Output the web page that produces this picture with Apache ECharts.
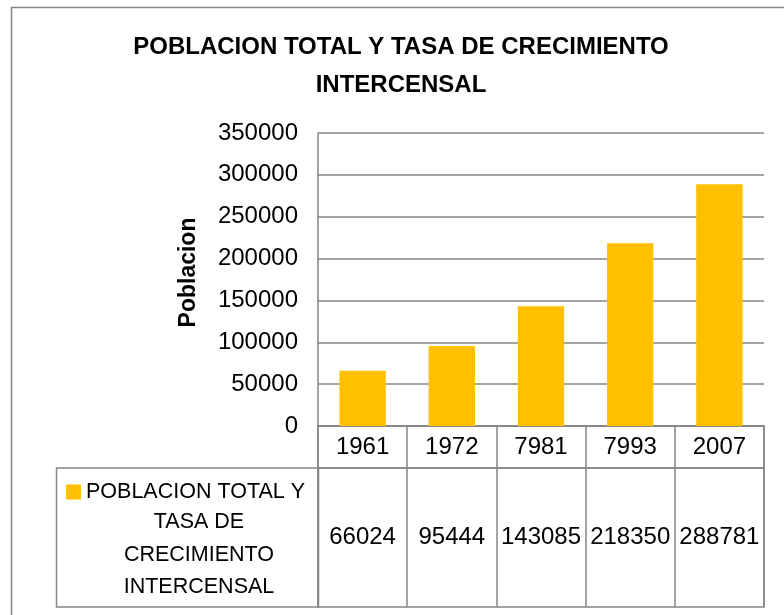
<!DOCTYPE html>
<html>
<head>
<meta charset="utf-8">
<script src="https://cdn.jsdelivr.net/npm/echarts@6/dist/echarts.min.js"></script>
<style>
  html, body { margin: 0; padding: 0; background: #fff; }
  #chart { width: 784px; height: 615px; }
</style>
</head>
<body>
<div id="chart"></div>
<script>
// datos del grafico
const years = ['1961', '1972', '7981', '7993', '2007'];
const poblacion = [66024, 95444, 143085, 218350, 288781];
const seriesName = 'POBLACION TOTAL Y TASA DE CRECIMIENTO INTERCENSAL';
const legendLines = ['POBLACION TOTAL Y', 'TASA DE', 'CRECIMIENTO', 'INTERCENSAL'];
const titleText = 'POBLACION TOTAL Y TASA DE CRECIMIENTO\nINTERCENSAL';
const yName = 'Poblacion';

const font = 'Liberation Sans';
const gris = '#868686';

const myChart = echarts.init(document.getElementById('chart'));
const option = {
    animation: false,
    textStyle: { fontFamily: font },
    title: [
        {
            text: titleText,
            left: 401,
            top: 28,
            padding: 0,
            textAlign: 'center',
            textStyle: { fontSize: 24, fontWeight: 'bold', color: '#000', lineHeight: 38, fontFamily: font }
        },
        {
            // resto del texto de la leyenda (tabla de datos)
            text: legendLines.slice(1).join('\n'),
            left: 199,
            top: 506,
            padding: 0,
            textAlign: 'center',
            textStyle: { fontSize: 21.5, fontWeight: 'normal', color: '#000', lineHeight: 32.5, fontFamily: font }
        }
    ],
    legend: {
        left: 66,
        top: 481,
        padding: 0,
        selectedMode: false,
        icon: 'rect',
        itemWidth: 15,
        itemHeight: 15,
        data: [seriesName],
        formatter: () => legendLines[0],
        textStyle: { fontSize: 21.5, color: '#000', fontFamily: font }
    },
    graphic: [
        {
            type: 'rect',
            z: -10,
            shape: { x: 11.5, y: 7.5, width: 900, height: 900 },
            style: { fill: 'none', stroke: gris, lineWidth: 1.5 }
        },
        {
            type: 'rect',
            z: -10,
            shape: { x: 56.5, y: 468, width: 262, height: 139 },
            style: { fill: 'none', stroke: gris, lineWidth: 1.5 }
        }
    ],
    grid: [
        { left: 318, top: 133, width: 446, height: 293 },
        { left: 318, top: 426, width: 446, height: 42, show: true, borderColor: gris, borderWidth: 1.5 },
        { left: 318, top: 468, width: 446, height: 139, show: true, borderColor: gris, borderWidth: 1.5 }
    ],
    xAxis: [
        {
            type: 'category',
            gridIndex: 0,
            data: years,
            axisLine: { lineStyle: { color: gris, width: 1.5 } },
            axisTick: { show: false },
            axisLabel: { show: false }
        },
        {
            type: 'category',
            gridIndex: 1,
            position: 'top',
            data: years,
            axisLine: { show: false },
            axisTick: { show: false },
            splitLine: { show: true, interval: 0, lineStyle: { color: gris, width: 1.5 } },
            axisLabel: { interval: 0, inside: true, margin: 21, verticalAlign: 'middle', fontSize: 24, color: '#000' }
        },
        {
            type: 'category',
            gridIndex: 2,
            position: 'top',
            data: years,
            axisLine: { show: false },
            axisTick: { show: false },
            splitLine: { show: true, interval: 0, lineStyle: { color: gris, width: 1.5 } },
            axisLabel: {
                interval: 0, inside: true, margin: 69.5, verticalAlign: 'middle', fontSize: 24, color: '#000',
                formatter: (v, i) => String(poblacion[i])
            }
        }
    ],
    yAxis: [
        {
            type: 'value',
            gridIndex: 0,
            min: 0,
            max: 350000,
            interval: 50000,
            name: yName,
            nameLocation: 'middle',
            nameRotate: 90,
            nameGap: 118,
            nameTextStyle: { fontSize: 23, fontWeight: 'bold', color: '#000', padding: [0, 0, 0, 14] },
            axisLine: { show: true, lineStyle: { color: gris, width: 1.5 } },
            axisTick: { show: false },
            splitLine: { show: true, lineStyle: { color: gris, width: 1.5 } },
            axisLabel: { margin: 20, fontSize: 24, color: '#000', formatter: v => String(v) }
        },
        { type: 'value', gridIndex: 1, min: 0, max: 1, show: false },
        { type: 'value', gridIndex: 2, min: 0, max: 1, show: false }
    ],
    series: [
        {
            name: seriesName,
            type: 'bar',
            xAxisIndex: 0,
            yAxisIndex: 0,
            data: poblacion,
            barCategoryGap: '48%',
            itemStyle: { color: '#FFC000' }
        }
    ]
};
option && myChart.setOption(option);
</script>
</body>
</html>
